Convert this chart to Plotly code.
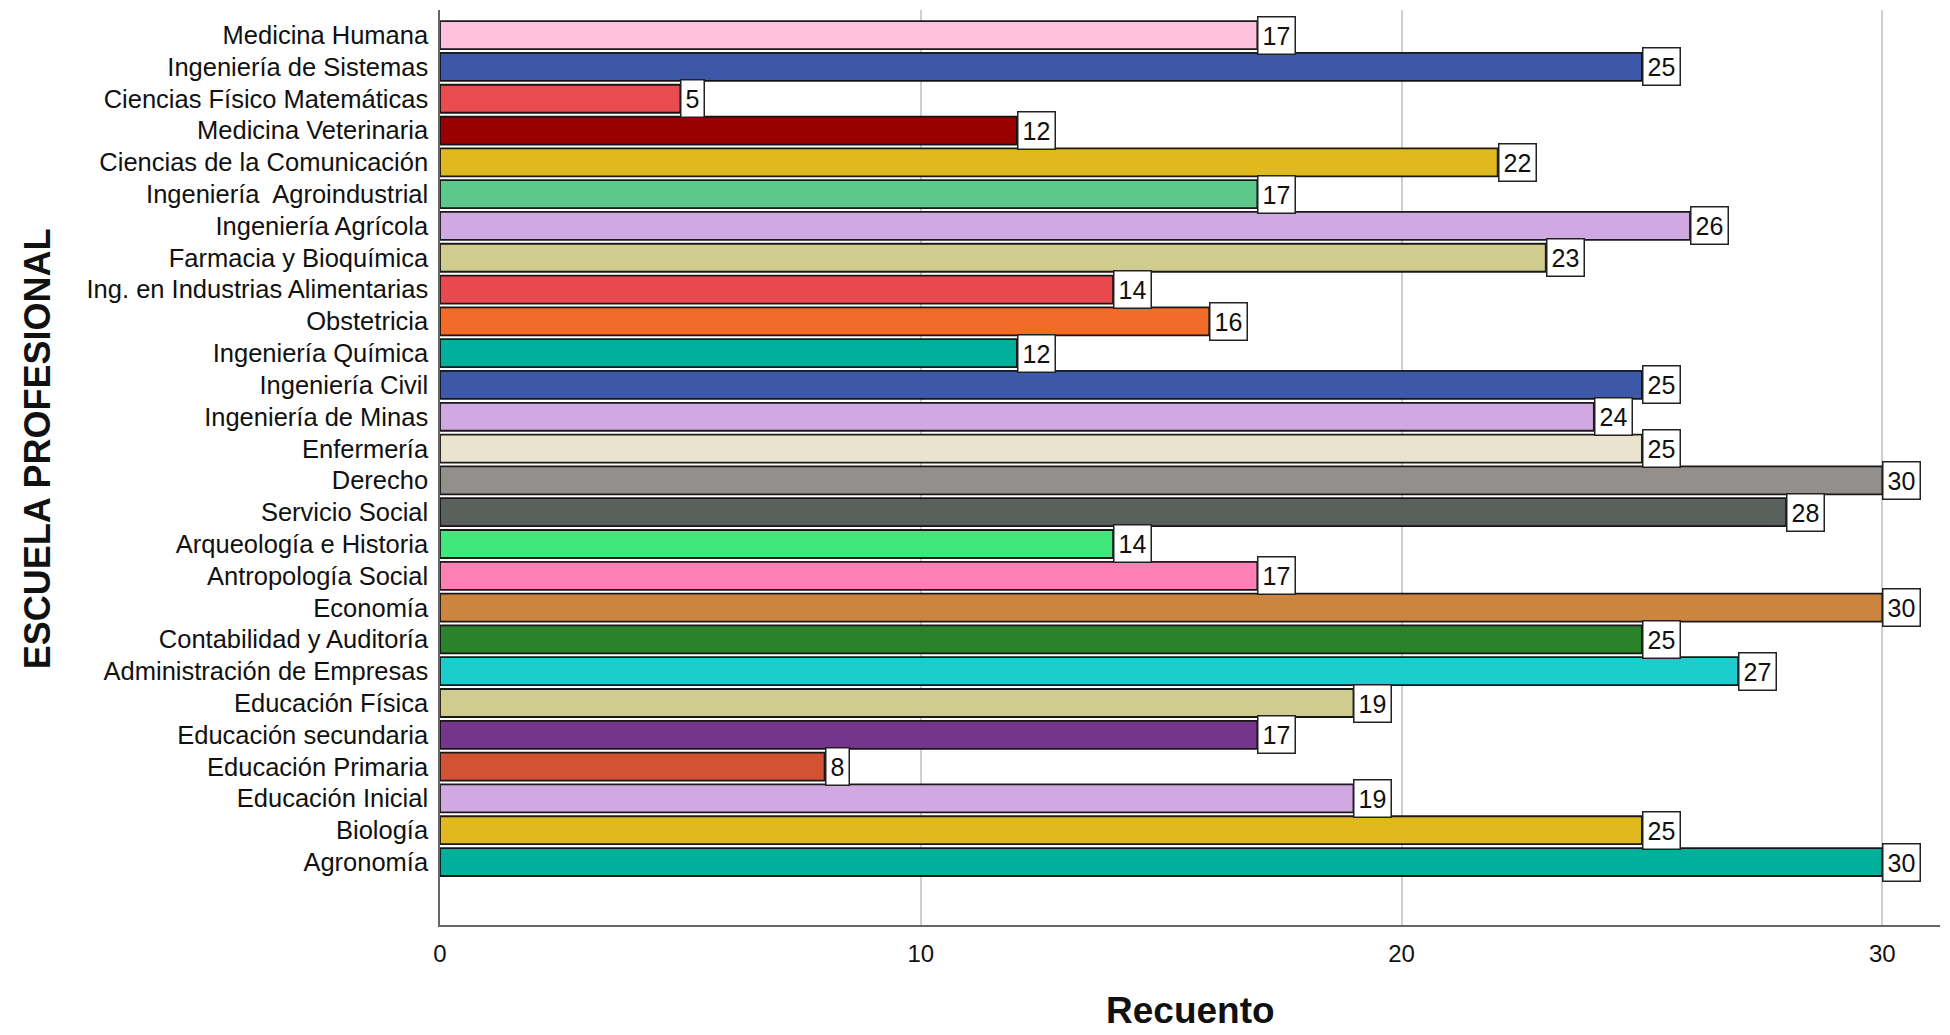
import plotly.graph_objects as go

# Escuelas profesionales (de arriba hacia abajo) y su recuento
escuelas = [
    "Medicina Humana", "Ingeniería de Sistemas", "Ciencias Físico Matemáticas",
    "Medicina Veterinaria", "Ciencias de la Comunicación", "Ingeniería  Agroindustrial",
    "Ingeniería Agrícola", "Farmacia y Bioquímica", "Ing. en Industrias Alimentarias",
    "Obstetricia", "Ingeniería Química", "Ingeniería Civil", "Ingeniería de Minas",
    "Enfermería", "Derecho", "Servicio Social", "Arqueología e Historia",
    "Antropología Social", "Economía", "Contabilidad y Auditoría",
    "Administración de Empresas", "Educación Física", "Educación secundaria",
    "Educación Primaria", "Educación Inicial", "Biología", "Agronomía",
]
recuento = [17, 25, 5, 12, 22, 17, 26, 23, 14, 16, 12, 25, 24, 25, 30, 28, 14,
            17, 30, 25, 27, 19, 17, 8, 19, 25, 30]
colores = [
    "#FFC1DE", "#3E58A8", "#E84C4E", "#990000", "#E0B91E", "#5CC98A",
    "#D0A8E2", "#D0CB8F", "#E8494E", "#F26B28", "#00B09B", "#3E58A8",
    "#D0A8E2", "#EAE4CE", "#928F8C", "#5A605B", "#40E87C", "#FF80B4",
    "#CC853F", "#2A8229", "#1CCDCD", "#D0CB8F", "#75358A", "#D25233",
    "#D0A8E2", "#E0B91E", "#00B09B",
]

FONT = "Liberation Sans, Arial, sans-serif"

fig = go.Figure(
    go.Bar(
        x=recuento,
        y=escuelas,
        orientation="h",
        marker=dict(color=colores, line=dict(color="rgba(15,15,15,0.95)", width=1.8)),
        hoverinfo="x+y",
    )
)

# Etiquetas de valor en recuadro blanco al final de cada barra
for esc, val in zip(escuelas, recuento):
    fig.add_annotation(
        x=val, y=esc, xref="x", yref="y",
        text=str(val), showarrow=False,
        xanchor="left", yanchor="middle",
        font=dict(family=FONT, size=25, color="#111111"),
        bgcolor="white", bordercolor="#222222", borderwidth=1.5, borderpad=4,
    )

fig.add_annotation(
    x=0.5, y=-0.093, xref="paper", yref="paper",
    text="<b>Recuento</b>", showarrow=False,
    xanchor="center", yanchor="middle",
    font=dict(family=FONT, size=37, color="#111111"),
)
fig.add_annotation(
    x=-0.2687, y=0.521, xref="paper", yref="paper",
    text="<b>ESCUELA PROFESIONAL</b>", showarrow=False, textangle=-90,
    xanchor="center", yanchor="middle",
    font=dict(family=FONT, size=36, color="#111111"),
)

fig.update_layout(
    width=1950, height=1035,
    margin=dict(l=440, r=10, t=10, b=110),
    paper_bgcolor="white", plot_bgcolor="white",
    bargap=0.12,
    showlegend=False,
    font=dict(family=FONT, size=25, color="#111111"),
)
fig.update_xaxes(
    range=[0, 31.2],
    tickvals=[0, 10, 20, 30],
    showgrid=True, gridcolor="#CFCFCF", gridwidth=1.5,
    zeroline=False,
    showline=True, linecolor="#666666", linewidth=1.5,
    ticks="", ticklabelstandoff=6,
    tickfont=dict(family=FONT, size=24, color="#111111"),
)
fig.update_yaxes(
    type="category",
    categoryorder="array", categoryarray=escuelas[::-1],
    range=[-1.98, 26.79],
    showgrid=False, zeroline=False,
    showline=True, linecolor="#666666", linewidth=1.5,
    ticks="", ticklabelstandoff=5,
    tickfont=dict(family=FONT, size=25.5, color="#111111"),
)

fig.write_html("out.html")
